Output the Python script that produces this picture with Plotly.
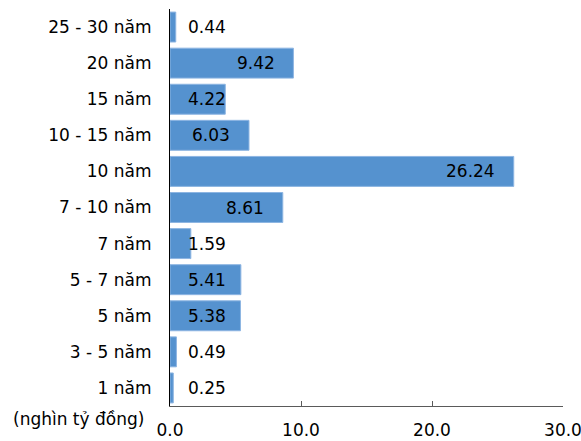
import plotly.graph_objects as go

# Kỳ hạn (top to bottom) and value in nghìn tỷ đồng
terms = ["25 - 30 năm", "20 năm", "15 năm", "10 - 15 năm", "10 năm", "7 - 10 năm",
         "7 năm", "5 - 7 năm", "5 năm", "3 - 5 năm", "1 năm"]
values = [0.44, 9.42, 4.22, 6.03, 26.24, 8.61, 1.59, 5.41, 5.38, 0.49, 0.25]
x_ticks = [0, 10, 20, 30]

FONT = "DejaVu Sans"
FS = 17
BAR = "#5592cf"

W, H = 581, 441
ML, MR, MT, MB = 170, 18, 9, 35

fig = go.Figure(go.Bar(
    x=values, y=terms, orientation="h",
    marker=dict(color=BAR, line=dict(color="#8db5e2", width=1)),
    hoverinfo="x+y",
))

# value labels: right-aligned just inside the bar end, never closer to the axis than a minimum
for t, v in zip(terms, values):
    fig.add_annotation(
        x=max(v - 1.29, 4.42), y=t, xref="x", yref="y",
        text=f"{v:.2f}", showarrow=False, xanchor="right", yanchor="middle",
        font=dict(family=FONT, size=FS, color="#000000"),
    )

# unit caption, positioned in pixels and converted to paper coordinates
pw, ph = W - ML - MR, H - MT - MB
fig.add_annotation(
    x=(146 - ML) / pw, y=(H - MB - 419) / ph, xref="paper", yref="paper",
    text="(nghìn tỷ đồng)", showarrow=False,
    xanchor="right", yanchor="middle", font=dict(family=FONT, size=FS, color="#000000"),
)

fig.update_layout(
    width=W, height=H,
    margin=dict(l=ML, r=MR, t=MT, b=MB, autoexpand=False),
    paper_bgcolor="white", plot_bgcolor="white",
    bargap=0.17, showlegend=False,
    font=dict(family=FONT, size=FS, color="#000000"),
    xaxis=dict(
        range=[0, 30], tickvals=x_ticks, ticktext=[f"{v:.1f}" for v in x_ticks],
        showgrid=False, zeroline=False, showline=True, linecolor="#5a5a5a", linewidth=1,
        ticks="inside", ticklen=5, tickcolor="#5a5a5a", tickfont=dict(size=FS),
        ticklabelstandoff=9, ticklabeloverflow="allow", automargin=False,
    ),
    yaxis=dict(
        categoryorder="array", categoryarray=terms[::-1],
        showgrid=False, zeroline=False, showline=True, linecolor="#000000", linewidth=1,
        ticks="", ticklabelstandoff=14, tickfont=dict(size=FS), automargin=False,
    ),
)

fig.write_html("out.html")
